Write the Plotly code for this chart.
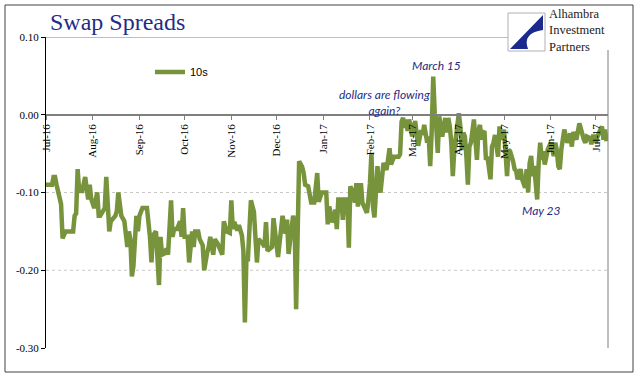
import plotly.graph_objects as go
import pandas as pd

# ---- data ----
start_date = "2016-07-01"
day_offset = [0, 4, 5, 6, 7, 10, 11, 13, 18, 19, 20, 21, 22, 24, 26, 28, 29, 30, 32, 34,
              35, 36, 39, 40, 42, 43, 46, 47, 48, 50, 52, 53, 54, 55, 56, 57, 58, 60, 61, 62,
              64, 67, 69, 70, 71, 73, 75, 76, 77, 79, 80, 81, 83, 84, 85, 87, 89, 90, 91, 92,
              94, 95, 97, 98, 99, 101, 102, 104, 105, 107, 108, 109, 111, 112, 114, 117, 118, 120, 122, 123,
              124, 125, 127, 128, 130, 131, 132, 133, 134, 136, 138, 140, 141, 144, 145, 146, 147, 150, 151, 154,
              155, 157, 159, 160, 161, 164, 165, 166, 168, 170, 171, 172, 174, 176, 178, 180, 181, 183, 186, 187,
              188, 190, 191, 192, 193, 194, 196, 197, 198, 200, 201, 202, 204, 205, 206, 207, 208, 209, 210, 212,
              213, 214, 215, 216, 217, 218, 219, 220, 221, 222, 224, 225, 226, 227, 228, 229, 230, 231, 234, 235,
              236, 237, 238, 239, 240, 241, 242, 243, 245, 246, 247, 249, 250, 251, 253, 254, 255, 256, 257, 258,
              259, 260, 261, 262, 263, 265, 266, 267, 268, 269, 270, 271, 272, 274, 275, 276, 277, 278, 279, 280,
              281, 282, 284, 285, 286, 287, 288, 289, 290, 291, 292, 293, 295, 296, 297, 298, 299, 300, 301, 302,
              304, 305, 306, 307, 308, 310, 311, 312, 313, 315, 316, 318, 319, 320, 321, 322, 323, 324, 326, 327,
              328, 329, 330, 331, 332, 333, 335, 336, 337, 338, 339, 340, 341, 342, 343, 344, 346, 347, 348, 349,
              350, 351, 352, 354, 356, 357, 358, 359, 361, 362, 363, 364, 365, 366, 368, 369, 370, 371, 372]
spread_10s = [-0.090, -0.090, -0.080, -0.080, -0.090, -0.115, -0.159, -0.150, -0.150, -0.130,
              -0.127, -0.070, -0.098, -0.098, -0.080, -0.109, -0.090, -0.108, -0.120, -0.100,
              -0.130, -0.130, -0.120, -0.080, -0.150, -0.137, -0.130, -0.124, -0.100, -0.130,
              -0.137, -0.150, -0.170, -0.150, -0.160, -0.208, -0.195, -0.130, -0.150, -0.130,
              -0.120, -0.120, -0.157, -0.190, -0.155, -0.150, -0.219, -0.157, -0.180, -0.178,
              -0.172, -0.180, -0.110, -0.157, -0.147, -0.147, -0.137, -0.157, -0.120, -0.157,
              -0.157, -0.190, -0.150, -0.170, -0.150, -0.150, -0.160, -0.168, -0.200, -0.177,
              -0.170, -0.157, -0.180, -0.160, -0.166, -0.180, -0.137, -0.150, -0.152, -0.110,
              -0.147, -0.138, -0.149, -0.142, -0.155, -0.175, -0.267, -0.186, -0.186, -0.110,
              -0.125, -0.190, -0.160, -0.166, -0.170, -0.138, -0.175, -0.170, -0.133, -0.183,
              -0.160, -0.130, -0.153, -0.135, -0.179, -0.130, -0.137, -0.250, -0.060, -0.067,
              -0.075, -0.090, -0.092, -0.113, -0.113, -0.075, -0.112, -0.100, -0.100, -0.141,
              -0.118, -0.138, -0.135, -0.122, -0.147, -0.109, -0.109, -0.135, -0.109, -0.109,
              -0.171, -0.092, -0.101, -0.113, -0.088, -0.118, -0.105, -0.088, -0.113, -0.122,
              -0.126, -0.109, -0.088, -0.049, -0.118, -0.132, -0.100, -0.066, -0.092, -0.100,
              -0.062, -0.066, -0.071, -0.058, -0.043, -0.064, -0.056, -0.054, -0.054, -0.051,
              -0.009, -0.004, -0.017, -0.006, -0.021, -0.006, -0.015, -0.028, -0.008, -0.031,
              -0.040, -0.020, -0.026, -0.013, -0.036, -0.028, -0.066, -0.020, 0.049, 0.002,
              -0.015, -0.049, -0.002, -0.015, -0.028, -0.004, -0.023, -0.004, -0.015, -0.036,
              -0.079, -0.045, -0.028, 0.002, -0.015, -0.045, -0.023, -0.028, -0.053, -0.090,
              -0.041, -0.036, -0.006, -0.036, -0.058, -0.021, -0.013, -0.032, -0.023, -0.021,
              -0.058, -0.054, -0.083, -0.041, -0.036, -0.026, -0.041, -0.054, -0.015, -0.032,
              -0.019, -0.049, -0.079, -0.045, -0.047, -0.060, -0.070, -0.072, -0.083, -0.070,
              -0.083, -0.094, -0.070, -0.100, -0.062, -0.053, -0.079, -0.066, -0.109, -0.062,
              -0.036, -0.058, -0.047, -0.064, -0.049, -0.045, -0.036, -0.049, -0.053, -0.036,
              -0.045, -0.066, -0.070, -0.045, -0.032, -0.019, -0.036, -0.028, -0.024, -0.041,
              -0.022, -0.028, -0.032, -0.011, -0.028, -0.032, -0.036, -0.028, -0.030, -0.038,
              -0.028, -0.028, -0.036, -0.028, -0.019, -0.015, -0.032, -0.019, -0.034]
series_name = "10s"
y_tickvals = [0.10, 0.00, -0.10, -0.20, -0.30]
y_ticktext = ["0.10", "0.00", "-0.10", "-0.20", "-0.30"]
grid_levels = [-0.10, -0.20]
logo_lines = ["Alhambra", "Investment", "Partners"]
x_start, x_end = "2016-07-01", "2017-07-09"
y_min, y_max = -0.30, 0.10

dates = pd.to_datetime(start_date) + pd.to_timedelta(day_offset, unit="D")

# ---- layout geometry (pixels) ----
W, H = 640, 380
L, R, T, B = 46, 32, 37, 32
PW, PH = W - L - R, H - T - B
def px(x):
    return (x - L) / PW
def py(y):
    return (H - B - y) / PH

green = "#77933C"
navy = "#1F2D86"
serif = "Liberation Serif"

fig = go.Figure()
fig.add_trace(go.Scatter(x=dates, y=spread_10s, mode="lines", name=series_name,
                         line=dict(color=green, width=4.5)))

shapes = []
for g in grid_levels:
    shapes.append(dict(type="line", xref="paper", yref="y", x0=0, x1=1, y0=g, y1=g,
                       line=dict(color="#C8C8C8", width=1, dash="dot"), layer="below"))
# top border line (0.10), stops at logo
shapes.append(dict(type="line", xref="paper", yref="y", x0=0, x1=px(508), y0=y_max, y1=y_max,
                   line=dict(color="#7F7F7F", width=1)))
# right border of plot area (below logo)
shapes.append(dict(type="line", xref="paper", yref="paper", x0=1, x1=1, y0=0, y1=py(50),
                   line=dict(color="#7F7F7F", width=1)))
# outer frame
shapes.append(dict(type="rect", xref="paper", yref="paper", x0=px(5), x1=px(633), y0=py(372), y1=py(5),
                   line=dict(color="#404040", width=1)))
# logo box
shapes.append(dict(type="rect", xref="paper", yref="paper", x0=px(508), x1=px(545), y0=py(51), y1=py(13),
                   line=dict(color="#B0B0B0", width=1), fillcolor="white"))
# logo swoosh
shapes.append(dict(type="path", xref="paper", yref="paper",
                   path=(f"M {px(510):.5f} {py(49):.5f} L {px(543):.5f} {py(15):.5f} "
                         f"L {px(543):.5f} {py(30):.5f} Q {px(522):.5f} {py(33):.5f} {px(528):.5f} {py(49):.5f} Z"),
                   fillcolor="#1B2A8C", line=dict(width=0)))

annotations = [
    dict(text="Swap Spreads", xref="paper", yref="paper", x=px(48), y=py(22), xanchor="left", yanchor="middle",
         showarrow=False, font=dict(family=serif, size=24, color=navy)),
    dict(text="<i>March 15</i>", xref="paper", yref="paper", x=px(436), y=py(66), xanchor="center",
         yanchor="middle", showarrow=False, font=dict(family="Lato", size=12, color=navy)),
    dict(text="<i>dollars are flowing<br>again?</i>", xref="paper", yref="paper", x=px(384), y=py(102),
         xanchor="center", yanchor="middle", showarrow=False,
         font=dict(family="Lato", size=12, color=navy)),
    dict(text="<i>May 23</i>", xref="paper", yref="paper", x=px(541), y=py(210), xanchor="center",
         yanchor="middle", showarrow=False, font=dict(family="Lato", size=12, color=navy)),
    dict(text="<br>".join(logo_lines), xref="paper", yref="paper", x=px(547), y=py(31),
         xanchor="left", yanchor="middle", align="left", showarrow=False,
         font=dict(family=serif, size=12.5, color="#222222")),
]

zero_pos = (0 - y_min) / (y_max - y_min)

fig.update_layout(
    width=W, height=H,
    margin=dict(l=L, r=R, t=T, b=B),
    paper_bgcolor="white", plot_bgcolor="white",
    showlegend=True,
    legend=dict(x=px(150), y=py(72), xanchor="left", yanchor="middle", bgcolor="rgba(0,0,0,0)",
                font=dict(family="Liberation Sans", size=11, color="#000000")),
    xaxis=dict(type="date", range=[x_start, x_end], anchor="free", position=zero_pos,
               tick0="2016-07-01", dtick="M1", tickformat="%b-%y", tickangle=-90,
               ticks="outside", ticklen=4, tickcolor="#7F7F7F",
               showline=True, linecolor="#7F7F7F", linewidth=2, showgrid=False, zeroline=False,
               tickfont=dict(family=serif, size=11, color="#000000")),
    yaxis=dict(range=[y_min, y_max], tickvals=y_tickvals, ticktext=y_ticktext,
               ticks="outside", ticklen=4, tickcolor="#000000",
               showline=True, linecolor="#000000", linewidth=1, showgrid=False, zeroline=False,
               tickfont=dict(family=serif, size=11, color="#000000")),
    shapes=shapes, annotations=annotations,
)

fig.write_html("out.html", config={"displayModeBar": False},
               post_script="document.body.style.margin='0';document.body.style.overflow='hidden';")
